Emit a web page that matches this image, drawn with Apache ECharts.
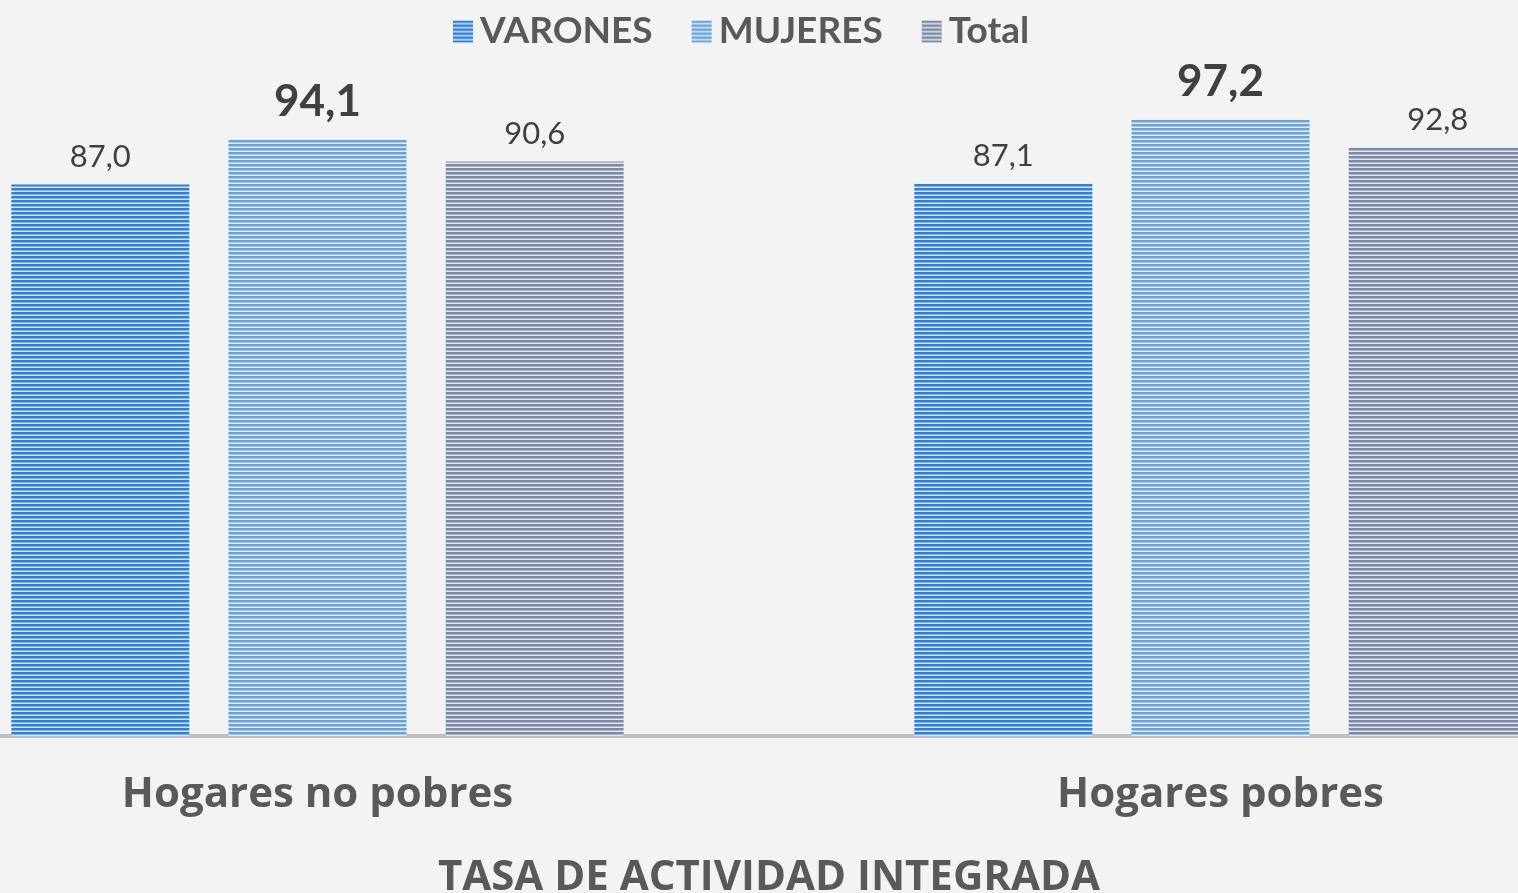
<!DOCTYPE html>
<html>
<head>
<meta charset="utf-8">
<script src="https://cdn.jsdelivr.net/npm/echarts@6/dist/echarts.min.js"></script>
<style>
  html, body { margin: 0; padding: 0; background: #f3f3f3; overflow: hidden; }
  /* el grafico original queda recortado a ambos lados */
  #chart { position: absolute; left: -134px; top: 0; width: 1806px; height: 893px; }
</style>
</head>
<body>
<div id="chart"></div>
<script>
// datos
const categories = ['Hogares no pobres', 'Hogares pobres'];
const varones = [87.0, 87.1];
const mujeres = [94.1, 97.2];
const total = [90.6, 92.8];

const FONT = 'Lato, "Open Sans", sans-serif';
const FONT_WIDE = '"Open Sans", Lato, sans-serif';
const SHIFT = 134;

// rayado horizontal de las barras
function stripes(dark, light) {
  const c = document.createElement('canvas');
  c.width = 4;
  c.height = 4;
  const ctx = c.getContext('2d');
  ctx.fillStyle = light;
  ctx.fillRect(0, 0, 4, 4);
  ctx.fillStyle = dark;
  ctx.fillRect(0, 0, 4, 2.5);
  return { image: c, repeat: 'repeat' };
}

const fmt = p => p.value.toFixed(1).replace('.', ',');

const chart = echarts.init(document.getElementById('chart'));

function serie(name, data, dark, light, big) {
  return {
    name: name,
    type: 'bar',
    data: data,
    barWidth: 178,
    barGap: '22%',
    itemStyle: { color: stripes(dark, light) },
    label: {
      show: true,
      position: 'top',
      distance: big ? 16 : 12,
      formatter: fmt,
      fontFamily: FONT,
      fontSize: big ? 44 : 31,
      fontWeight: big ? 'bold' : 'normal',
      color: '#404040'
    }
  };
}

chart.setOption({
  backgroundColor: '#f3f3f3',
  animation: false,
  title: {
    text: 'TASA DE ACTIVIDAD INTEGRADA',
    left: 'center',
    top: 852,
    textStyle: { fontFamily: FONT_WIDE, fontSize: 42, fontWeight: 'bold', color: '#595959' }
  },
  legend: {
    top: 8,
    left: 448 + SHIFT,
    itemWidth: 20,
    itemHeight: 22,
    itemGap: 39,
    icon: 'rect',
    textStyle: { fontFamily: FONT, fontSize: 37, fontWeight: 'bold', color: '#595959', padding: [0, 0, 0, 2] }
  },
  grid: { left: 0, right: 0, top: 102, bottom: 157 },
  xAxis: {
    type: 'category',
    data: categories,
    axisTick: { show: false },
    axisLine: { lineStyle: { color: '#bfbfbf', width: 4 } },
    axisLabel: { margin: 38, fontFamily: FONT_WIDE, fontSize: 42, fontWeight: 'bold', color: '#595959' }
  },
  yAxis: {
    type: 'value',
    min: 0,
    max: 100,
    show: false,
    splitLine: { show: false }
  },
  series: [
    serie('VARONES', varones, '#2e7fd9', '#d6e6f7', false),
    serie('MUJERES', mujeres, '#6aa3d8', '#e2edf8', true),
    serie('Total', total, '#7d89a6', '#e3e6ed', false)
  ]
});
</script>
</body>
</html>
